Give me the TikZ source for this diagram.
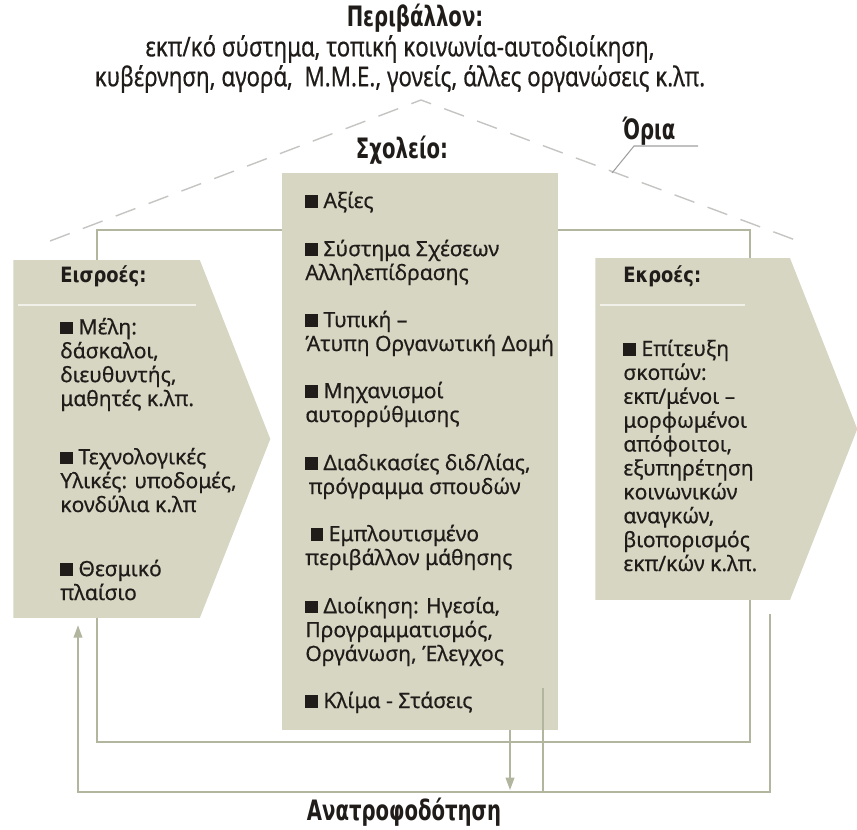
\documentclass[tikz,border=0pt]{standalone}
\usepackage{fontspec}
\setmainfont{Noto Sans}[FakeBold=0.5]
\newfontfamily\headfont[FakeStretch=0.85]{DejaVu Sans}
\newfontfamily\narrowfont[FakeStretch=0.82,FakeBold=0.5]{Noto Sans}
\newfontfamily\narrowbold[FakeStretch=0.7]{DejaVu Sans}
\usetikzlibrary{positioning,arrows.meta,shapes.symbols,calc}

\definecolor{panelfill}{RGB}{214,214,195}
\definecolor{wire}{RGB}{178,182,158}
\definecolor{roofgray}{RGB}{196,196,194}
\definecolor{ink}{RGB}{32,28,26}

\newcommand{\bsq}{\rule{0.6em}{0.6em}}

\begin{document}
\begin{tikzpicture}[
    x=0.02cm, y=-0.02cm,
    panel/.style={fill=panelfill, inner sep=0pt},
    inout/.style={panel, signal, signal to=east, signal pointer angle=137, anchor=west},
    item/.style={anchor=base west, align=left, inner sep=0pt, text=ink, font=\fontsize{12}{13.6}\selectfont},
    head/.style={item, font=\headfont\bfseries\fontsize{12}{13.6}\selectfont},
    caption/.style={inner sep=0pt, text=ink, font=\narrowbold\bfseries\fontsize{16}{17}\selectfont},
    frame/.style={draw=wire, line width=0.9pt},
    fb/.style={draw=wire, line width=0.7pt},
    tip/.style={-{Triangle[width=5pt,length=7pt]}},
    roof/.style={draw=roofgray, line width=0.8pt, dash pattern=on 12pt off 8pt}
]
\useasboundingbox (0,0) rectangle (857,829);

% environment
\node[caption] (envhead) at (415,18) {Περιβάλλον:};
\node[caption, font=\narrowfont\fontsize{15.5}{17}\selectfont, align=center] (envtext) at (400,64)
    {εκπ/κό σύστημα, τοπική κοινωνία-αυτοδιοίκηση,\\κυβέρνηση, αγορά,~ Μ.Μ.Ε., γονείς, άλλες οργανώσεις κ.λπ.};

% boundaries
\coordinate (apex) at (421,100);
\coordinate (roofL) at (50,241);
\coordinate (roofR) at (806,244);
\draw[roof] (roofL) -- (apex) -- (roofR);
\node[caption] (bounds) at (649,131) {Όρια};
\coordinate (bnd) at (612,173);
\coordinate (bndK) at (634,146);
\coordinate (bndE) at (698,146);
\draw[draw=gray!75, line width=0.6pt] (bnd) -- (bndK) -- (bndE);

\draw[frame] (97,230) rectangle (750,742);

% school
\node[caption] (schoolhead) at (402,150) {Σχολείο:};
\node[panel, minimum width=5.52cm, minimum height=11.14cm] (school) at (420,451.5) {};

% inputs, outputs
\node[inout, minimum width=5.14cm, minimum height=7.16cm] (inputs) at (13,439) {};
\node[inout, minimum width=5.24cm, minimum height=6.84cm] (outputs) at (595,429) {};
\draw[panelfill!35!white, line width=1.2pt] (18,305) -- (196,305);
\draw[panelfill!35!white, line width=1.2pt] (600,305) -- (745,305);

% (base = last line)
\node[head] (inhead) at (60,282) {Εισροές:};
\node[item] (members) at (60,406) {\bsq\ Μέλη:\\δάσκαλοι,\\διευθυντής,\\μαθητές κ.λπ.};
\node[item] (resources) at (60,512) {\bsq\ Τεχνολογικές\\Υλικές: υποδομές,\\κονδύλια κ.λπ};
\node[item] (legal) at (60,600) {\bsq\ Θεσμικό\\πλαίσιο};

\node[item] (values) at (305,208) {\bsq\ Αξίες};
\node[item] (relations) at (305,280) {\bsq\ Σύστημα Σχέσεων\\Αλληλεπίδρασης};
\node[item] (structure) at (305,351) {\bsq\ Τυπική --\\Άτυπη Οργανωτική Δομή};
\node[item] (selfreg) at (305,422) {\bsq\ Μηχανισμοί\\αυτορρύθμισης};
\node[item] (teaching) at (305,494) {\bsq\ Διαδικασίες διδ/λίας,\\\hspace*{2pt}πρόγραμμα σπουδών};
\node[item] (learnenv) at (305,565) {\hspace*{3pt}\bsq\ Εμπλουτισμένο\\περιβάλλον μάθησης};
\node[item] (admin) at (305,661) {\bsq\ Διοίκηση: Ηγεσία,\\Προγραμματισμός,\\Οργάνωση, Έλεγχος};
\node[item] (climate) at (305,708) {\bsq\ Κλίμα - Στάσεις};

\node[head] (outhead) at (623,282) {Εκροές:};
\node[item] (goals) at (623,571) {\bsq\ Επίτευξη\\σκοπών:\\εκπ/μένοι --\\μορφωμένοι\\απόφοιτοι,\\εξυπηρέτηση\\κοινωνικών\\αναγκών,\\βιοπορισμός\\εκπ/κών κ.λπ.};

% feedback
\coordinate (fbR) at (770,614);
\coordinate (fbB) at (770,792);
\coordinate (fbL) at (78,792);
\draw[fb, tip] (fbR) -- (fbB) -- (fbL) -- ($(inputs.south -| fbL)+(0,7)$);
\coordinate (dropA) at (510,790);
\draw[fb, tip] (school.south -| dropA) -- (dropA);
\coordinate (dropB) at (543,688);
\draw[fb] (dropB) -- (dropB |- fbB);

\node[caption] (feedback) at (404,812) {Ανατροφοδότηση};

\end{tikzpicture}
\end{document}
